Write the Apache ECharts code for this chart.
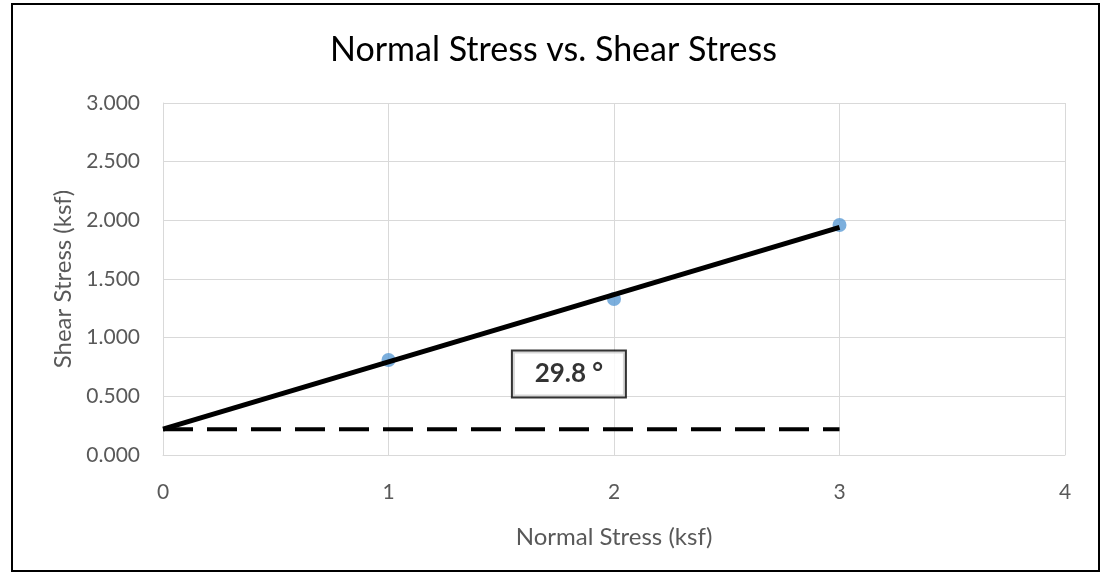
<!DOCTYPE html>
<html>
<head>
<meta charset="utf-8">
<script src="https://cdn.jsdelivr.net/npm/echarts@6/dist/echarts.min.js"></script>
<style>
  html, body { margin: 0; padding: 0; background: #fff; }
  #chart { width: 1107px; height: 573px; }
</style>
</head>
<body>
<div id="chart"></div>
<script>
// measured points (normal stress, shear stress)
const normalStress = [1, 2, 3];
const shearStress = [0.81, 1.33, 1.96];

// fitted failure envelope and the horizontal reference line
const envelopeX = [0, 3];
const envelopeY = [0.22, 1.94];
const baseY = [0.22, 0.22];

// angle annotation
const angleText = '29.8 °';
const anglePos = [1.8, 0.69];

const FONT = 'Lato, "Open Sans", sans-serif';

const chart = echarts.init(document.getElementById('chart'));

const option = {
  backgroundColor: '#fff',
  animation: false,
  title: {
    text: 'Normal Stress vs. Shear Stress',
    left: 'center',
    top: 28,
    textStyle: { fontFamily: FONT, fontSize: 34, fontWeight: 'normal', color: '#000' }
  },
  // 外框
  graphic: [{
    type: 'rect',
    shape: { x: 12, y: 4, width: 1087, height: 567 },
    style: { fill: 'none', stroke: '#000', lineWidth: 2 },
    silent: true
  }],
  grid: { left: 163, top: 103, width: 902, height: 352 },
  xAxis: {
    type: 'value',
    min: 0, max: 4, interval: 1,
    name: 'Normal Stress (ksf)',
    nameLocation: 'middle',
    nameGap: 70,
    nameTextStyle: { fontFamily: FONT, fontSize: 24, color: '#595959' },
    axisLine: { lineStyle: { color: '#D9D9D9', width: 1 } },
    axisTick: { show: false },
    axisLabel: { margin: 27, fontFamily: FONT, fontSize: 21, color: '#595959' },
    splitLine: { lineStyle: { color: '#D9D9D9', width: 1 } }
  },
  yAxis: {
    type: 'value',
    min: 0, max: 3, interval: 0.5,
    name: 'Shear Stress (ksf)',
    nameLocation: 'middle',
    nameGap: 88,
    nameTextStyle: { fontFamily: FONT, fontSize: 24, color: '#595959' },
    axisLine: { show: true, lineStyle: { color: '#D9D9D9', width: 1 } },
    axisTick: { show: false },
    axisLabel: {
      margin: 23, fontFamily: FONT, fontSize: 21, color: '#595959',
      formatter: v => v.toFixed(3)
    },
    splitLine: { lineStyle: { color: '#D9D9D9', width: 1 } }
  },
  series: [
    {
      type: 'scatter',
      data: normalStress.map((x, i) => [x, shearStress[i]]),
      symbolSize: 14,
      itemStyle: { color: '#5B9BD5' },
      z: 2
    },
    {
      type: 'line',
      data: envelopeX.map((x, i) => [x, envelopeY[i]]),
      showSymbol: false,
      lineStyle: { color: '#000', width: 5 },
      z: 3
    },
    {
      type: 'line',
      data: envelopeX.map((x, i) => [x, baseY[i]]),
      showSymbol: false,
      lineStyle: { color: '#000', width: 4, type: [30, 14] },
      z: 3
    },
    {
      type: 'scatter',
      data: [anglePos],
      symbolSize: 0,
      silent: true,
      z: 4,
      label: {
        show: true,
        position: 'inside',
        formatter: angleText,
        fontFamily: FONT,
        fontSize: 26,
        fontWeight: 'bold',
        color: '#000',
        backgroundColor: '#fff',
        borderColor: '#000',
        borderWidth: 2,
        width: 112,
        height: 45,
        lineHeight: 45,
        align: 'center',
        verticalAlign: 'middle'
      }
    }
  ]
};

chart.setOption(option);
</script>
</body>
</html>
